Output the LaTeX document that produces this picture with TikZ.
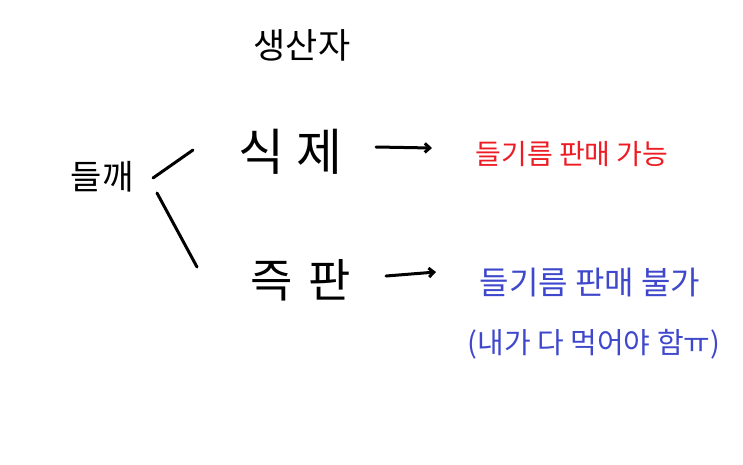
\documentclass[tikz,border=0pt]{standalone}
\usepackage{fontspec}
\setmainfont{Noto Sans CJK KR}
\usetikzlibrary{arrows.meta}
\definecolor{pred}{HTML}{ED1C24}
\definecolor{pblue}{HTML}{3F48CC}
\begin{document}
\begin{tikzpicture}[x=1pt,y=-1pt,
  lbl/.style={inner sep=0pt,anchor=center},
  stroke/.style={line width=3pt,line cap=round,black},
  arr/.style={stroke,-{Straight Barb[length=5pt,width=9pt]}}]
\useasboundingbox (0,0) rectangle (743,464);
\node[lbl,font=\fontsize{35}{37}\selectfont] (prod) at (302,45) {생산자};
\node[lbl,font=\fontsize{34}{36}\selectfont] (deul) at (102,177) {들깨};
\node[lbl,font=\fontsize{50}{52}\selectfont] (sik) at (290,152) {식\hspace{12pt}제};
\node[lbl,font=\fontsize{46}{48}\selectfont] (jeuk) at (301,280) {즉\hspace{16pt}판};
\node[lbl,font=\fontsize{28}{30}\selectfont,text=pred] (can) at (572,154) {들기름 판매 가능};
\node[lbl,font=\fontsize{32}{34}\selectfont,text=pblue] (cant) at (590,283) {들기름 판매 불가};
\node[lbl,font=\fontsize{29}{31}\selectfont,text=pblue] (eat) at (594,344) {(내가 다 먹어야 함ㅠ)};
\coordinate (u1) at (153,178);
\coordinate (u2) at (193,150);
\coordinate (l1) at (157,193);
\coordinate (l2) at (197,267);
\coordinate (a1) at (376,147);
\coordinate (a2) at (432,148);
\coordinate (b1) at (386,276);
\coordinate (b2) at (436,272);
\draw[stroke] (u1) -- (u2);
\draw[stroke] (l1) -- (l2);
\draw[arr] (a1) -- (a2);
\draw[arr] (b1) -- (b2);
\end{tikzpicture}
\end{document}
